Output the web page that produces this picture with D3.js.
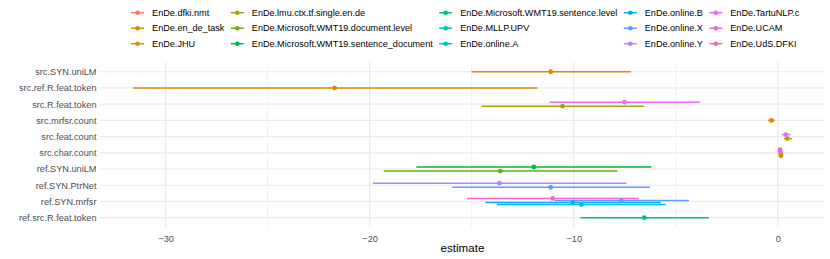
<!DOCTYPE html>
<html>
<head>
<meta charset="utf-8">
<script src="https://cdn.jsdelivr.net/npm/d3@7"></script>
<style>
  body { margin: 0; background: #fff; }
  svg { font-family: "Liberation Sans", Arial, sans-serif; }
</style>
</head>
<body>
<svg id="chart" width="830" height="259"></svg>
<script>
// systems, in legend order
const systems = [
  "EnDe.dfki.nmt", "EnDe.en_de_task", "EnDe.JHU",
  "EnDe.lmu.ctx.tf.single.en.de", "EnDe.Microsoft.WMT19.document.level", "EnDe.Microsoft.WMT19.sentence_document",
  "EnDe.Microsoft.WMT19.sentence.level", "EnDe.MLLP.UPV", "EnDe.online.A",
  "EnDe.online.B", "EnDe.online.X", "EnDe.online.Y",
  "EnDe.TartuNLP.c", "EnDe.UCAM", "EnDe.UdS.DFKI"
];
// ggplot hue palette, 15 colours
const palette = ["#F8766D", "#E58700", "#C99800", "#A3A500", "#6BB100", "#00BA38", "#00BF7D", "#00C0AF",
  "#00BCD8", "#00B0F6", "#619CFF", "#B983FF", "#E76BF3", "#FD61D1", "#FF67A4"];

// terms, top to bottom
const terms = ["src.SYN.uniLM", "src.ref.R.feat.token", "src.R.feat.token", "src.mrfsr.count", "src.feat.count",
  "src.char.count", "ref.SYN.uniLM", "ref.SYN.PtrNet", "ref.SYN.mrfsr", "ref.src.R.feat.token"];

// one entry per estimate
const rowTerm = [
  "src.SYN.uniLM", "src.ref.R.feat.token", "src.R.feat.token", "src.R.feat.token", "src.mrfsr.count",
  "src.feat.count", "src.feat.count",
  "src.char.count", "src.char.count", "src.char.count", "src.char.count",
  "ref.SYN.uniLM", "ref.SYN.uniLM", "ref.SYN.PtrNet", "ref.SYN.PtrNet",
  "ref.SYN.mrfsr", "ref.SYN.mrfsr", "ref.SYN.mrfsr", "ref.SYN.mrfsr", "ref.src.R.feat.token"
];
const rowSystem = [
  "EnDe.en_de_task", "EnDe.en_de_task", "EnDe.lmu.ctx.tf.single.en.de", "EnDe.TartuNLP.c", "EnDe.en_de_task",
  "EnDe.lmu.ctx.tf.single.en.de", "EnDe.TartuNLP.c",
  "EnDe.en_de_task", "EnDe.lmu.ctx.tf.single.en.de", "EnDe.TartuNLP.c", "EnDe.UCAM",
  "EnDe.Microsoft.WMT19.document.level", "EnDe.Microsoft.WMT19.sentence_document", "EnDe.online.X", "EnDe.online.Y",
  "EnDe.online.A", "EnDe.online.B", "EnDe.online.X", "EnDe.UCAM", "EnDe.Microsoft.WMT19.sentence.level"
];
const estimate = [-11.13, -21.72, -10.55, -7.51, -0.31, 0.47, 0.39, 0.16, 0.14, 0.12, 0.11,
  -13.60, -11.96, -11.13, -13.64, -9.62, -10.05, -7.66, -11.03, -6.54];
const lower = [-15.01, -31.60, -14.52, -11.18, -0.47, 0.29, 0.21, 0.13, 0.11, 0.09, 0.08,
  -19.31, -17.71, -15.95, -19.84, -13.76, -14.33, -10.93, -15.23, -9.67];
const upper = [-7.20, -11.78, -6.55, -3.82, -0.15, 0.70, 0.62, 0.19, 0.17, 0.15, 0.14,
  -7.86, -6.19, -6.27, -7.42, -5.49, -5.74, -4.35, -6.81, -3.38];

const xTicks = [-30, -20, -10, 0];

const data = rowTerm.map((t, i) => ({
  term: t, system: rowSystem[i], est: estimate[i], lo: lower[i], hi: upper[i]
}));

const svg = d3.select("#chart");
const panel = { left: 100, right: 825, top: 62, bottom: 227.4 };

const allVals = lower.concat(upper);
const [vmin, vmax] = d3.extent(allVals);
const pad = (vmax - vmin) * 0.05;
const x = d3.scaleLinear().domain([vmin - pad, vmax + pad]).range([panel.left, panel.right]);
const y = d3.scalePoint().domain(terms).range([panel.top, panel.bottom]).padding(0.6);
const color = d3.scaleOrdinal().domain(systems).range(palette);

// dodge within each term: higher system index sits higher
const dodge = y.step() * 0.5;
d3.group(data, d => d.term).forEach(rows => {
  rows.sort((a, b) => systems.indexOf(a.system) - systems.indexOf(b.system));
  const n = rows.length;
  rows.forEach((d, k) => { d.yy = y(d.term) + ((n - 1) / 2 - k) * (dodge / n); });
});

// grid
const grid = svg.append("g");
const minor = d3.range(-35, 5, 10).filter(v => x(v) >= panel.left && x(v) <= panel.right);
grid.selectAll(".minor").data(minor).join("line")
  .attr("x1", d => x(d)).attr("x2", d => x(d))
  .attr("y1", panel.top).attr("y2", panel.bottom)
  .attr("stroke", "#EBEBEB").attr("stroke-width", 0.7);
grid.selectAll(".vmajor").data(xTicks).join("line")
  .attr("x1", d => x(d)).attr("x2", d => x(d))
  .attr("y1", panel.top).attr("y2", panel.bottom)
  .attr("stroke", "#EBEBEB").attr("stroke-width", 1.2);
grid.selectAll(".hmajor").data(terms).join("line")
  .attr("x1", panel.left).attr("x2", panel.right)
  .attr("y1", d => y(d)).attr("y2", d => y(d))
  .attr("stroke", "#EBEBEB").attr("stroke-width", 1.2);

// axes
const xAxis = svg.append("g")
  .attr("transform", `translate(0,${panel.bottom})`)
  .call(d3.axisBottom(x).tickValues(xTicks).tickSize(0).tickPadding(8));
xAxis.select(".domain").remove();
xAxis.selectAll("text").attr("fill", "#4D4D4D").attr("font-size", 9.2)
  .attr("font-family", "Liberation Sans, Arial, sans-serif");

const yAxis = svg.append("g")
  .attr("transform", `translate(${panel.left},0)`)
  .call(d3.axisLeft(y).tickSize(0).tickPadding(3.5));
yAxis.select(".domain").remove();
yAxis.selectAll("text").attr("fill", "#4D4D4D").attr("font-size", 9.2)
  .attr("font-family", "Liberation Sans, Arial, sans-serif");

svg.append("text")
  .attr("x", (panel.left + panel.right) / 2).attr("y", 251.5)
  .attr("text-anchor", "middle").attr("font-size", 11.6).attr("fill", "#000")
  .text("estimate");

// point ranges: lines first, then points
svg.append("g").selectAll("line").data(data).join("line")
  .attr("x1", d => x(d.lo)).attr("x2", d => x(d.hi))
  .attr("y1", d => d.yy).attr("y2", d => d.yy)
  .attr("stroke", d => color(d.system)).attr("stroke-width", 1.5);
svg.append("g").selectAll("circle").data(data).join("circle")
  .attr("cx", d => x(d.est)).attr("cy", d => d.yy).attr("r", 2.4)
  .attr("fill", d => color(d.system));

// legend, 3 rows filled column by column
const nRow = 3, rowH = 15.5, legTop = 12.7;
const textOff = 14.5, colGap = 12.9;
const legend = svg.append("g");
const items = legend.selectAll("g").data(systems).join("g");
items.append("line").attr("x1", -6.5).attr("x2", 6.5)
  .attr("stroke", d => color(d)).attr("stroke-width", 1.5);
items.append("circle").attr("r", 2.3).attr("fill", d => color(d));
items.append("text").attr("x", textOff).attr("dy", "0.35em")
  .attr("font-size", 9.1).attr("fill", "#000").text(d => d);

const widths = [];
items.select("text").each(function(d, i) {
  const c = Math.floor(i / nRow);
  widths[c] = Math.max(widths[c] || 0, this.getComputedTextLength());
});
const colX = [0];
widths.forEach((w, c) => { colX[c + 1] = colX[c] + textOff + w + colGap; });
const totalW = colX[widths.length] - colGap + 7;
const legLeft = 465 - totalW / 2 + 7;
items.attr("transform", (d, i) =>
  `translate(${legLeft + colX[Math.floor(i / nRow)]},${legTop + (i % nRow) * rowH})`);
</script>
</body>
</html>
